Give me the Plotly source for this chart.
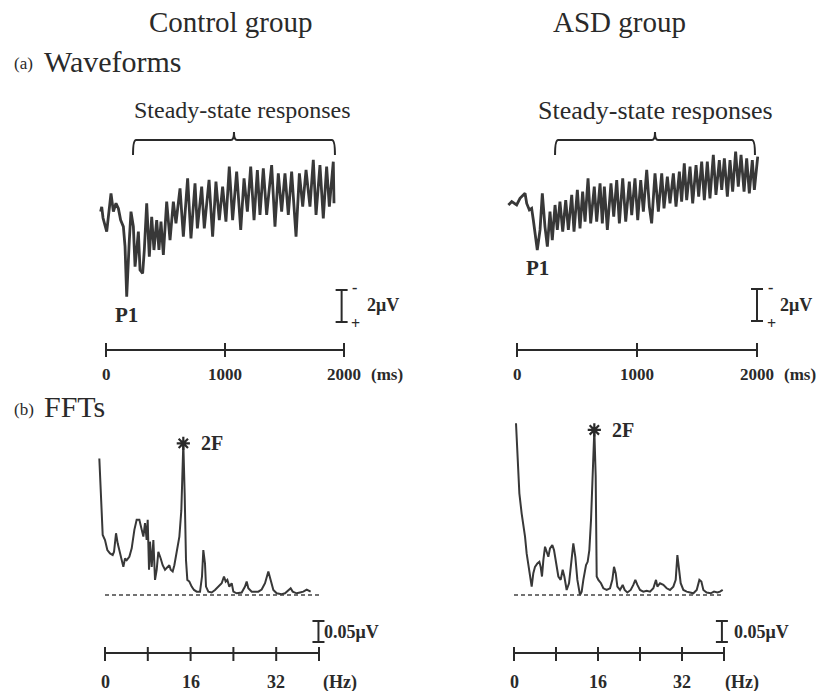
import plotly.graph_objects as go

W, H = 827, 691
SERIF = "Liberation Serif, DejaVu Serif, serif"
INK = "#2a2a2a"
TRACE = "#383838"

# ---------------- data ----------------
# Control group waveform: time (ms) and amplitude (uV, positive = downward)
ctrl_t = [-45, -36, -25, 6, 42, 62, 84, 104, 123, 146, 160, 174, 196, 210, 230, 244, 258, 272, 286, 308,
          322, 342, 364, 384, 403, 426, 445, 462, 482, 510, 538, 566, 588, 622, 650, 686, 714, 748, 768, 804,
          826, 866, 896, 924, 952, 980, 1008, 1036, 1064, 1098, 1132, 1160, 1188, 1216, 1244, 1272, 1294, 1322,
          1350, 1392, 1420, 1448, 1476, 1504, 1532, 1560, 1597, 1625, 1653, 1681, 1714, 1742, 1765, 1798, 1826,
          1854, 1877, 1910, 1916]
ctrl_uv = [0.1, -0.2, 0.5, 1.35, -1.04, 0.10, -0.42, -0.10, 0.63, 1.04, 2.29, 5.42, 1.88, 0.10, 1.04, 3.54,
           2.50, 1.35, 3.75, 3.96, 2.50, -0.42, 2.92, 0.42, 2.50, 0.63, 2.50, 0.73, 2.81, -0.52, 1.88, -0.52,
           0.83, -1.35, 1.67, -1.98, 1.77, -1.67, 1.15, -1.46, 1.15, -1.88, 1.67, -1.77, 0.63, -1.46, 0.73,
           -2.71, 0.63, -2.40, 1.25, -1.98, 0.10, -2.71, 0.63, -2.50, 0.31, -2.60, 0.31, -2.81, 1.04, -2.29,
           0.10, -2.29, 0.31, -2.40, 1.67, -2.29, -0.21, -2.50, -0.21, -3.13, 0.31, -2.81, 0.52, -2.71, -0.21,
           -3.02, -0.42]

# ASD group waveform
asd_t = [-72, -44, -3, 25, 67, 81, 103, 122, 136, 169, 192, 211, 233, 253, 275, 294, 317, 336, 358, 381,
         406, 428, 456, 475, 503, 525, 547, 567, 592, 614, 644, 664, 692, 711, 728, 753, 783, 806, 831, 853,
         881, 906, 936, 956, 983, 1006, 1031, 1053, 1081, 1103, 1122, 1150, 1178, 1206, 1225, 1253, 1275, 1303,
         1325, 1353, 1372, 1394, 1414, 1442, 1464, 1492, 1514, 1539, 1561, 1586, 1608, 1636, 1658, 1686, 1706,
         1728, 1753, 1775, 1797, 1822, 1844, 1867, 1892, 1914, 1936, 1961, 1978, 2006]
asd_uv = [0.0, -0.21, 0.0, -0.42, -0.73, -0.10, 0.31, 0.21, 0.94, 2.81, 1.56, -0.73, 1.35, 2.60, 0.42, 2.19,
          0.0, 1.56, -0.21, 1.67, -0.31, 1.56, -0.63, 1.67, -0.94, 1.46, -0.83, 1.04, -1.67, 1.15, -1.15, 1.04,
          -1.35, 1.15, -1.15, 1.56, -1.35, 0.73, -1.56, 1.15, -1.67, 1.04, -1.46, 0.63, -1.67, 0.94, -1.56,
          0.42, -2.19, 0.10, 1.15, -1.98, 0.42, -1.98, 0.21, -1.77, -0.10, -1.98, 0.10, -2.08, -0.21, -2.60,
          -0.31, -2.40, -0.10, -2.50, -0.52, -2.71, -0.31, -2.71, -0.42, -3.13, -0.63, -2.81, -0.94, -2.92,
          -0.52, -2.81, -0.83, -3.33, -1.15, -3.13, -0.83, -2.92, -0.73, -2.81, -0.94, -3.02]

# Control group FFT: frequency (Hz) and amplitude (uV)
ctrl_hz = [-1.06, -0.62, -0.43, 0.00, 0.44, 0.94, 1.44, 1.69, 2.06, 2.37, 2.68, 2.99, 3.43, 3.74, 4.05, 4.55,
           4.99, 5.49, 5.92, 6.42, 6.86, 7.17, 7.48, 7.79, 7.98, 8.23, 8.41, 8.73, 9.04, 9.35, 9.66, 9.97,
           10.41, 10.78, 11.22, 11.65, 12.03, 12.28, 12.65, 12.96, 13.40, 13.90, 14.27, 14.64, 14.89, 15.14,
           15.39, 15.77, 16.20, 16.64, 17.14, 17.76, 18.13, 18.38, 18.69, 18.88, 19.32, 19.94, 20.56, 21.19,
           21.81, 22.24, 22.56, 22.87, 23.24, 23.68, 23.99, 24.61, 25.55, 26.17, 26.48, 26.79, 27.42, 28.04,
           28.66, 29.28, 29.91, 30.53, 30.97, 31.47, 32.09, 33.02, 33.65, 34.27, 34.70, 35.08, 35.83, 36.45,
           37.07, 37.70, 38.01, 38.44]
ctrl_amp = [0.325, 0.179, 0.143, 0.131, 0.107, 0.099, 0.095, 0.103, 0.147, 0.123, 0.107, 0.091, 0.067, 0.087,
            0.083, 0.091, 0.111, 0.155, 0.179, 0.179, 0.155, 0.139, 0.171, 0.131, 0.179, 0.060, 0.127, 0.067,
            0.131, 0.036, 0.060, 0.103, 0.087, 0.071, 0.060, 0.067, 0.071, 0.060, 0.056, 0.071, 0.099, 0.139,
            0.202, 0.361, 0.242, 0.083, 0.036, 0.032, 0.020, 0.012, 0.008, 0.008, 0.044, 0.107, 0.075, 0.020,
            0.008, 0.006, 0.012, 0.020, 0.028, 0.044, 0.032, 0.036, 0.020, 0.028, 0.008, 0.004, 0.006, 0.020,
            0.032, 0.016, 0.008, 0.008, 0.008, 0.013, 0.028, 0.056, 0.036, 0.012, 0.004, 0.002, 0.004, 0.012,
            0.016, 0.008, 0.004, 0.006, 0.008, 0.013, 0.010, 0.008]

# ASD group FFT
asd_hz = [0.38, 0.64, 1.02, 1.46, 1.78, 2.10, 2.41, 2.73, 3.05, 3.37, 3.68, 4.00, 4.45, 4.83, 5.08, 5.33, 5.59,
          5.91, 6.22, 6.54, 6.86, 7.30, 7.62, 8.00, 8.45, 8.89, 9.27, 9.59, 10.03, 10.48, 10.86, 11.30, 11.68,
          12.07, 12.57, 12.89, 13.21, 13.72, 14.03, 14.35, 14.67, 14.99, 15.30, 15.56, 15.75, 16.07, 16.57,
          17.02, 17.65, 18.29, 18.73, 19.05, 19.37, 19.69, 20.19, 20.70, 21.08, 21.59, 22.23, 22.73, 23.11,
          23.50, 24.00, 24.64, 25.27, 25.91, 26.54, 27.05, 27.31, 27.81, 28.45, 29.08, 29.72, 30.35, 30.80,
          31.12, 31.43, 31.75, 32.26, 32.89, 33.53, 34.16, 34.80, 35.31, 35.69, 36.07, 36.70, 37.47, 38.10,
          38.74, 39.24, 39.75]
asd_amp = [0.409, 0.337, 0.242, 0.194, 0.171, 0.139, 0.099, 0.075, 0.052, 0.020, 0.052, 0.067, 0.075, 0.079,
           0.067, 0.044, 0.083, 0.115, 0.103, 0.091, 0.111, 0.119, 0.107, 0.075, 0.044, 0.036, 0.060, 0.044,
           0.012, 0.028, 0.075, 0.123, 0.091, 0.036, 0.000, 0.008, 0.036, 0.071, 0.079, 0.107, 0.179, 0.298,
           0.393, 0.282, 0.044, 0.036, 0.028, 0.016, 0.012, 0.016, 0.036, 0.067, 0.052, 0.020, 0.012, 0.024,
           0.012, 0.006, 0.012, 0.024, 0.036, 0.024, 0.012, 0.008, 0.010, 0.008, 0.016, 0.036, 0.020, 0.028,
           0.024, 0.016, 0.012, 0.020, 0.036, 0.095, 0.067, 0.028, 0.012, 0.008, 0.006, 0.004, 0.012, 0.036,
           0.032, 0.012, 0.006, 0.004, 0.008, 0.006, 0.008, 0.012]

ms_ticks = [0, 1000, 2000]
hz_ticks = [0, 8, 16, 24, 32, 40]
hz_labels = [0, 16, 32]
steady_ctrl = [227, 1924]       # ms, span of the "Steady-state responses" brace
steady_asd = [317, 1983]
wave_scale_uv = 2.0
fft_scale_uv = 0.05

# ---------------- layout geometry (pixels) ----------------
panels = {
    "wl": dict(ax="", xd=(0, 413), yd=(90, 395), x0=106, xs=238 / 2000, y0=210, ys=16.0),
    "wr": dict(ax="2", xd=(414, 827), yd=(90, 395), x0=517, xs=240 / 2000, y0=205, ys=16.0),
    "fl": dict(ax="3", xd=(0, 413), yd=(395, 691), x0=105, xs=214 / 40, y0=595, ys=-420.0),
    "fr": dict(ax="4", xd=(414, 827), yd=(395, 691), x0=514, xs=210 / 40, y0=595, ys=-420.0),
}


def py(p):
    return 1 - p / H


def px(p):
    return p / W


def yval(pn, p):
    P = panels[pn]
    return (p - P["y0"]) / P["ys"]


fig = go.Figure()
layout = dict(width=W, height=H, margin=dict(l=0, r=0, t=0, b=0), paper_bgcolor="white",
              plot_bgcolor="white", showlegend=False)
for name, P in panels.items():
    xr = [(P["xd"][0] - P["x0"]) / P["xs"], (P["xd"][1] - P["x0"]) / P["xs"]]
    yr = [(P["yd"][1] - P["y0"]) / P["ys"], (P["yd"][0] - P["y0"]) / P["ys"]]
    layout["xaxis" + P["ax"]] = dict(domain=[px(P["xd"][0]), px(P["xd"][1])], range=xr, visible=False,
                                     anchor="y" + P["ax"], fixedrange=True)
    layout["yaxis" + P["ax"]] = dict(domain=[py(P["yd"][1]), py(P["yd"][0])], range=yr, visible=False,
                                     anchor="x" + P["ax"], fixedrange=True)
fig.update_layout(**layout)

shapes = []
annotations = []


def txt(s, xp, yp, size, bold=False, xanchor="center", yanchor="middle"):
    annotations.append(dict(text=("<b>%s</b>" % s) if bold else s, x=px(xp), y=py(yp), xref="paper",
                            yref="paper", showarrow=False, xanchor=xanchor, yanchor=yanchor,
                            font=dict(family=SERIF, size=size, color=INK)))


def line(xref, yref, x0, y0, x1, y1, width=2.0, dash=None, color=INK):
    d = dict(type="line", xref=xref, yref=yref, x0=x0, y0=y0, x1=x1, y1=y1,
             line=dict(color=color, width=width))
    if dash:
        d["line"]["dash"] = dash
    shapes.append(d)


# ---------------- waveforms ----------------
for pn, t, v in (("wl", ctrl_t, ctrl_uv), ("wr", asd_t, asd_uv)):
    P = panels[pn]
    fig.add_trace(go.Scatter(x=t, y=v, mode="lines", line=dict(color=TRACE, width=2.8),
                             xaxis="x" + P["ax"], yaxis="y" + P["ax"], hoverinfo="skip"))

# time axes
for pn, ms_lab_x in (("wl", 369), ("wr", 782)):
    xr = "x" + panels[pn]["ax"]
    line(xr, "paper", ms_ticks[0], py(350), ms_ticks[-1], py(350), width=2)
    for t in ms_ticks:
        line(xr, "paper", t, py(343), t, py(357), width=2)
        annotations.append(dict(text="<b>%d</b>" % t, x=t, y=py(374), xref=xr, yref="paper",
                                showarrow=False, xanchor="center", yanchor="middle",
                                font=dict(family=SERIF, size=17, color=INK)))
    txt("(ms)", ms_lab_x, 374, 17, bold=True, xanchor="left")

# steady-state braces
for pn, span, cx, fs in (("wl", steady_ctrl, 243, 24), ("wr", steady_asd, 655, 26)):
    xr = "x" + panels[pn]["ax"]
    t0, t1 = span
    mid = (t0 + t1) / 2
    d = 25
    yT, yE, yN = py(140), py(155), py(132)
    path = ("M %f,%f Q %f,%f %f,%f L %f,%f Q %f,%f %f,%f Q %f,%f %f,%f L %f,%f Q %f,%f %f,%f" %
            (t0, yE, t0, yT, t0 + d, yT, mid - d, yT, mid, yT, mid, yN, mid, yT, mid + d, yT,
             t1 - d, yT, t1, yT, t1, yE))
    shapes.append(dict(type="path", xref=xr, yref="paper", path=path, line=dict(color=INK, width=2)))
    txt("Steady-state responses", cx, 110, fs)

# 2 uV scale bars (negative up)
for pn, bar_ms, top_px, lab_x in (("wl", 1980, 290, 365), ("wr", 2000, 289, 778)):
    P = panels[pn]
    xr, yr = "x" + P["ax"], "y" + P["ax"]
    top = yval(pn, top_px)
    bot = top + wave_scale_uv
    half = 6 / P["xs"]
    line(xr, yr, bar_ms, top, bar_ms, bot, width=2)
    line(xr, yr, bar_ms - half, top, bar_ms + half, top, width=2)
    line(xr, yr, bar_ms - half, bot, bar_ms + half, bot, width=2)
    bx = P["x0"] + bar_ms * P["xs"]
    txt("-", bx + 13, 287, 16, bold=True)
    txt("+", bx + 14, 323, 16, bold=True)
    txt("2μV", lab_x, 305, 18, bold=True, xanchor="left")

# P1 labels (under the P1 trough)
for pn, t, v, ypx in (("wl", ctrl_t, ctrl_uv, 315), ("wr", asd_t, asd_uv, 268)):
    P = panels[pn]
    i = max(range(len(v)), key=lambda k: v[k])
    txt("P1", P["x0"] + t[i] * P["xs"], ypx, 21, bold=True)

# ---------------- FFTs ----------------
for pn, f, a, lab_x, unit_x in (("fl", ctrl_hz, ctrl_amp, 322, 340), ("fr", asd_hz, asd_amp, 732, 742)):
    P = panels[pn]
    xr, yr = "x" + P["ax"], "y" + P["ax"]
    fig.add_trace(go.Scatter(x=f, y=a, mode="lines", line=dict(color=TRACE, width=2),
                             xaxis=xr, yaxis=yr, hoverinfo="skip"))
    line(xr, yr, hz_ticks[0], 0, hz_ticks[-1], 0, width=1.3, dash="4px,3px", color="#444444")
    line(xr, "paper", hz_ticks[0], py(653), hz_ticks[-1], py(653), width=2)
    for h in hz_ticks:
        line(xr, "paper", h, py(647), h, py(661), width=2)
    for h in hz_labels:
        annotations.append(dict(text="<b>%d</b>" % h, x=h, y=py(682), xref=xr, yref="paper",
                                showarrow=False, xanchor="center", yanchor="middle",
                                font=dict(family=SERIF, size=18, color=INK)))
    txt("(Hz)", unit_x, 682, 18, bold=True)
    bar_hz = hz_ticks[-1] - (0.1 if pn == "fl" else 0.4)
    bot = yval(pn, 642)
    top = bot + fft_scale_uv
    half = 6 / P["xs"]
    line(xr, yr, bar_hz, bot, bar_hz, top, width=2)
    line(xr, yr, bar_hz - half, top, bar_hz + half, top, width=2)
    line(xr, yr, bar_hz - half, bot, bar_hz + half, bot, width=2)
    txt("0.05μV", lab_x, 632, 18, bold=True, xanchor="left")
    i = max(range(len(a)), key=lambda k: a[k] if f[k] > 8 else -1)
    fig.add_trace(go.Scatter(x=[f[i]], y=[a[i]], mode="markers",
                             marker=dict(symbol="asterisk-open", size=11, color=INK,
                                         line=dict(color=INK, width=2.2)),
                             xaxis=xr, yaxis=yr, hoverinfo="skip", cliponaxis=False))
    annotations.append(dict(text="<b>2F</b>", x=f[i], y=a[i], xref=xr, yref=yr, xshift=16,
                            showarrow=False, xanchor="left", yanchor="middle",
                            font=dict(family=SERIF, size=20, color=INK)))

# ---------------- headings ----------------
txt("Control group", 231, 22, 29)
txt("ASD group", 619, 22, 29)
txt("(a)", 12, 64, 17, xanchor="left")
txt("Waveforms", 42, 62, 30, xanchor="left")
txt("(b)", 12, 409, 17, xanchor="left")
txt("FFTs", 42, 407, 30, xanchor="left")

fig.update_layout(shapes=shapes, annotations=annotations)
fig.write_html("out.html", config={"displayModeBar": False},
               post_script="document.body.style.margin='0';document.body.style.padding='0';")
